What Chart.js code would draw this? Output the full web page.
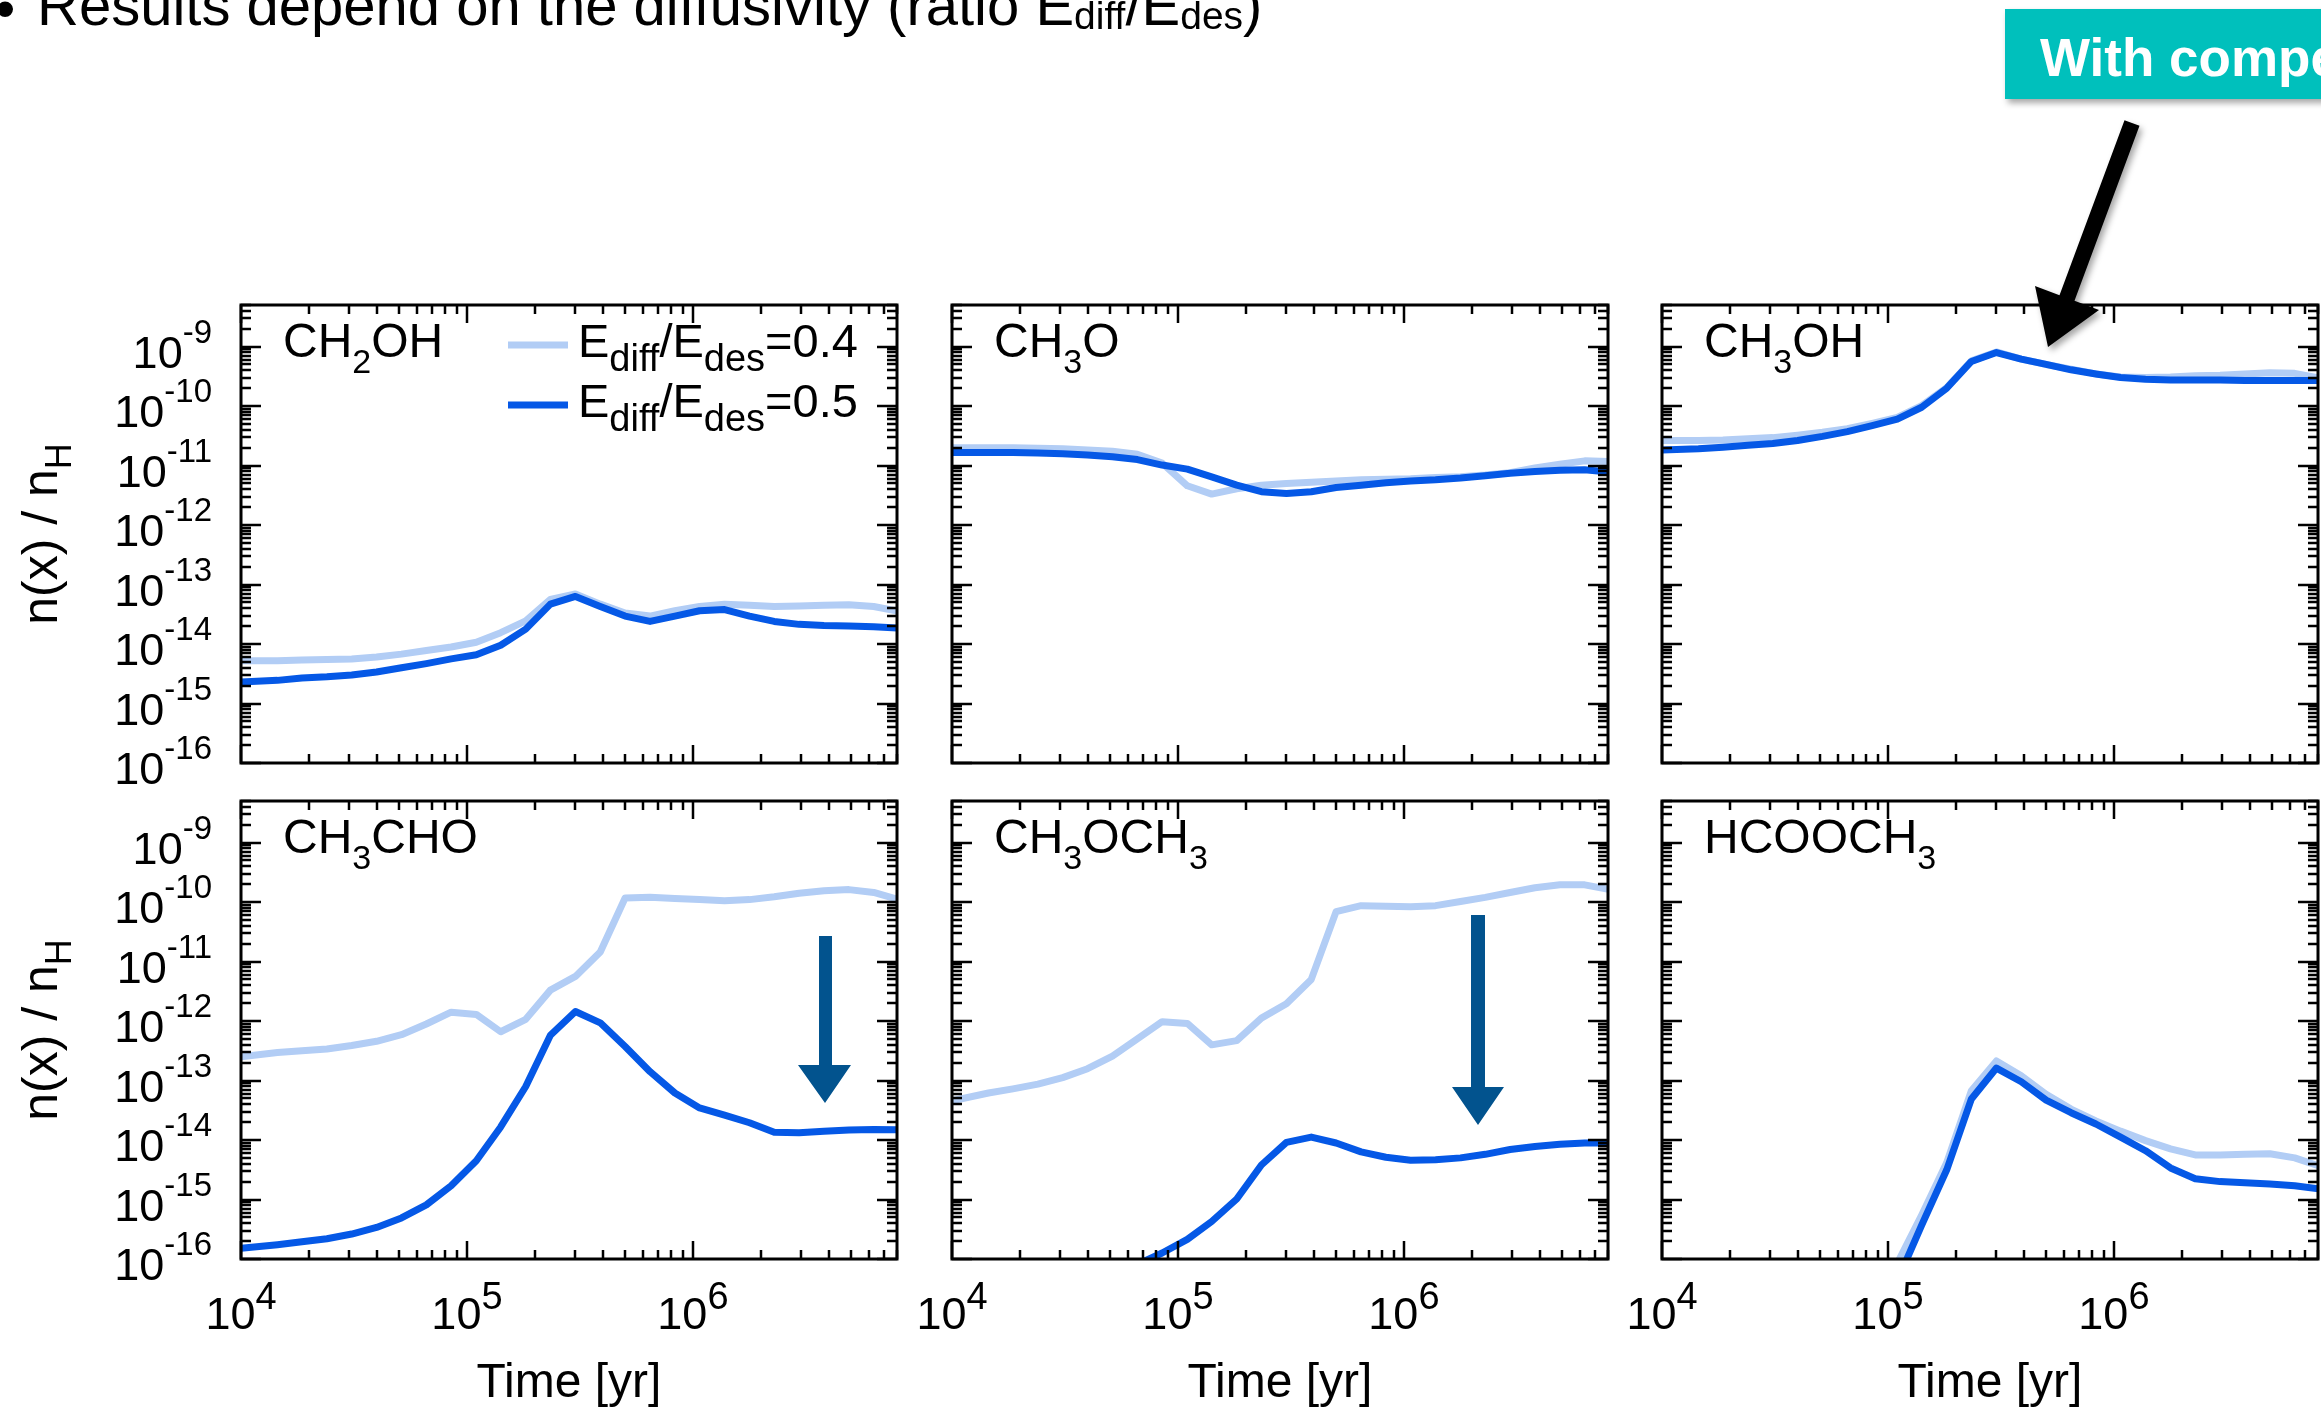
<!DOCTYPE html>
<html>
<head>
<meta charset="utf-8">
<script src="https://cdn.jsdelivr.net/npm/chart.js@4.4.1/dist/chart.umd.min.js"></script>
<style>
    html, body { margin: 0; padding: 0; width: 2321px; height: 1408px; overflow: hidden; background: #fff; }
    .panel { position: absolute; }
    #notes { position: absolute; left: 0; top: 0; }
</style>
</head>
<body>
<div id="panels"></div>
<svg id="notes" width="2321" height="1408" viewBox="0 0 2321 1408"></svg>
<script>
// model output times [yr]
const times = [1.0e4, 1.45e4, 1.86e4, 2.4e4, 3.09e4, 3.98e4, 5.13e4, 6.61e4, 8.51e4,
    1.10e5, 1.41e5, 1.82e5, 2.34e5, 3.02e5, 3.89e5, 5.01e5, 6.46e5, 8.32e5,
    1.07e6, 1.38e6, 1.78e6, 2.29e6, 2.95e6, 3.80e6, 4.90e6, 6.31e6, 8.13e6];

// abundances n(x)/nH, "Low" = Ediff/Edes=0.4, "High" = Ediff/Edes=0.5
const ch2ohLow = [5.25e-15, 5.25e-15, 5.37e-15, 5.50e-15, 5.62e-15, 6.03e-15, 6.76e-15, 7.76e-15, 8.91e-15,
    1.07e-14, 1.55e-14, 2.45e-14, 5.62e-14, 6.92e-14, 4.68e-14, 3.31e-14, 2.95e-14, 3.63e-14,
    4.27e-14, 4.68e-14, 4.47e-14, 4.27e-14, 4.37e-14, 4.47e-14, 4.57e-14, 4.27e-14, 3.55e-14];
const ch2ohHigh = [2.29e-15, 2.45e-15, 2.69e-15, 2.82e-15, 3.02e-15, 3.39e-15, 3.98e-15, 4.68e-15, 5.62e-15,
    6.61e-15, 9.55e-15, 1.78e-14, 4.68e-14, 6.31e-14, 4.27e-14, 2.95e-14, 2.40e-14, 2.95e-14,
    3.63e-14, 3.80e-14, 2.95e-14, 2.40e-14, 2.14e-14, 2.04e-14, 2.00e-14, 1.95e-14, 1.86e-14];

const ch3oLow = [2.00e-11, 2.00e-11, 2.00e-11, 1.95e-11, 1.91e-11, 1.82e-11, 1.74e-11, 1.55e-11, 1.10e-11,
    4.57e-12, 3.31e-12, 4.07e-12, 4.68e-12, 5.01e-12, 5.25e-12, 5.50e-12, 5.75e-12, 5.89e-12,
    6.03e-12, 6.31e-12, 6.46e-12, 6.92e-12, 7.59e-12, 9.12e-12, 1.05e-11, 1.20e-11, 1.17e-11];
const ch3oHigh = [1.66e-11, 1.66e-11, 1.66e-11, 1.62e-11, 1.58e-11, 1.51e-11, 1.41e-11, 1.26e-11, 1.02e-11,
    8.71e-12, 6.46e-12, 4.68e-12, 3.63e-12, 3.39e-12, 3.63e-12, 4.27e-12, 4.68e-12, 5.13e-12,
    5.50e-12, 5.75e-12, 6.17e-12, 6.76e-12, 7.41e-12, 7.94e-12, 8.32e-12, 8.51e-12, 7.76e-12];

const ch3ohLow = [2.63e-11, 2.63e-11, 2.69e-11, 2.82e-11, 2.95e-11, 3.24e-11, 3.63e-11, 4.17e-11, 5.13e-11,
    6.46e-11, 1.02e-10, 2.04e-10, 5.75e-10, 8.13e-10, 6.17e-10, 5.01e-10, 4.17e-10, 3.47e-10,
    3.09e-10, 3.02e-10, 3.09e-10, 3.24e-10, 3.31e-10, 3.47e-10, 3.63e-10, 3.55e-10, 2.95e-10];
const ch3ohHigh = [1.82e-11, 1.91e-11, 2.04e-11, 2.19e-11, 2.34e-11, 2.63e-11, 3.09e-11, 3.72e-11, 4.68e-11,
    6.03e-11, 9.55e-11, 2.00e-10, 5.62e-10, 7.94e-10, 6.17e-10, 5.01e-10, 4.07e-10, 3.47e-10,
    3.02e-10, 2.82e-10, 2.75e-10, 2.75e-10, 2.75e-10, 2.69e-10, 2.69e-10, 2.69e-10, 2.69e-10];

const ch3choLow = [2.51e-13, 2.95e-13, 3.16e-13, 3.39e-13, 3.89e-13, 4.57e-13, 5.89e-13, 8.91e-13, 1.41e-12,
    1.29e-12, 6.61e-13, 1.07e-12, 3.31e-12, 5.62e-12, 1.45e-11, 1.17e-10, 1.20e-10, 1.15e-10,
    1.10e-10, 1.05e-10, 1.10e-10, 1.23e-10, 1.41e-10, 1.55e-10, 1.62e-10, 1.45e-10, 1.10e-10];
const ch3choHigh = [1.51e-16, 1.74e-16, 1.95e-16, 2.19e-16, 2.63e-16, 3.39e-16, 4.90e-16, 8.13e-16, 1.70e-15,
    4.47e-15, 1.66e-14, 7.94e-14, 5.75e-13, 1.45e-12, 9.33e-13, 3.72e-13, 1.41e-13, 6.17e-14,
    3.47e-14, 2.63e-14, 1.95e-14, 1.35e-14, 1.32e-14, 1.41e-14, 1.48e-14, 1.51e-14, 1.48e-14];

const ch3och3Low = [4.57e-14, 6.17e-14, 7.24e-14, 8.71e-14, 1.12e-13, 1.58e-13, 2.57e-13, 5.01e-13, 9.77e-13,
    9.12e-13, 3.98e-13, 4.68e-13, 1.12e-12, 1.95e-12, 5.01e-12, 6.92e-11, 8.71e-11, 8.51e-11,
    8.32e-11, 8.71e-11, 1.02e-10, 1.20e-10, 1.45e-10, 1.74e-10, 1.95e-10, 1.95e-10, 1.62e-10];
const ch3och3High = [null, null, null, null, null, null, null, 8.13e-17, 1.26e-16,
    2.14e-16, 4.27e-16, 1.02e-15, 3.80e-15, 9.12e-15, 1.12e-14, 8.91e-15, 6.31e-15, 5.13e-15,
    4.57e-15, 4.68e-15, 5.01e-15, 5.75e-15, 6.92e-15, 7.76e-15, 8.51e-15, 8.91e-15, 8.91e-15];

const hcooch3Low = [null, null, null, null, null, null, null, null, null,
    8.51e-17, 5.50e-16, 4.17e-15, 6.76e-14, 2.14e-13, 1.20e-13, 5.89e-14, 3.31e-14, 2.09e-14,
    1.41e-14, 9.77e-15, 7.08e-15, 5.62e-15, 5.62e-15, 5.75e-15, 5.89e-15, 5.01e-15, 3.63e-15];
const hcooch3High = [null, null, null, null, null, null, null, null, null,
    4.27e-17, 3.72e-16, 3.16e-15, 4.90e-14, 1.62e-13, 9.55e-14, 4.68e-14, 2.88e-14, 1.86e-14,
    1.12e-14, 6.61e-15, 3.39e-15, 2.24e-15, 2.00e-15, 1.91e-15, 1.82e-15, 1.70e-15, 1.51e-15];

const seriesNames = ['E_{diff}/E_{des}=0.4', 'E_{diff}/E_{des}=0.5'];
const seriesColors = ['#b2cdf5', '#0558e6'];

const panels = [
    { label: 'CH_{2}OH', low: ch2ohLow, high: ch2ohHigh, col: 0, row: 0 },
    { label: 'CH_{3}O', low: ch3oLow, high: ch3oHigh, col: 1, row: 0 },
    { label: 'CH_{3}OH', low: ch3ohLow, high: ch3ohHigh, col: 2, row: 0 },
    { label: 'CH_{3}CHO', low: ch3choLow, high: ch3choHigh, col: 0, row: 1 },
    { label: 'CH_{3}OCH_{3}', low: ch3och3Low, high: ch3och3High, col: 1, row: 1 },
    { label: 'HCOOCH_{3}', low: hcooch3Low, high: hcooch3High, col: 2, row: 1 }
];

// layout of the 3x2 grid (px)
const PLOT_W = 656, PLOT_H = 458;
const colLeft = [241, 952, 1662];
const rowTop = [305, 801];
const PAD = { left: 150, right: 12, top: 12, bottom: 100 };
const FONT = '"Liberation Sans", Arial, Helvetica, sans-serif';

// 1..9 for plain log ticks, 0 for others (e.g. 1.5)
const mantissa = v => {
    const e = Math.floor(Math.log10(v) + 1e-9);
    const m = v / Math.pow(10, e);
    return Math.abs(m - Math.round(m)) < 1e-6 ? Math.round(m) : 0;
};

// box, inward ticks on all four sides and 10^n labels
const framePlugin = {
    id: 'frame',
    afterDatasetsDraw(chart, args, opts) {
        const { ctx, chartArea: a, scales: { x, y } } = chart;
        ctx.save();
        ctx.strokeStyle = '#000';
        ctx.fillStyle = '#000';
        ctx.lineWidth = 2.5;
        ctx.beginPath();
        x.ticks.forEach(t => {
            const m = mantissa(t.value);
            if (!m || t.value < x.min || t.value > x.max) return;
            const px = Math.round(x.getPixelForValue(t.value));
            const len = m === 1 ? 18 : 9;
            ctx.moveTo(px, a.bottom); ctx.lineTo(px, a.bottom - len);
            ctx.moveTo(px, a.top); ctx.lineTo(px, a.top + len);
        });
        y.ticks.forEach(t => {
            const m = mantissa(t.value);
            if (!m || t.value < y.min || t.value > y.max) return;
            const py = Math.round(y.getPixelForValue(t.value));
            const len = m === 1 ? 20 : 10;
            ctx.moveTo(a.left, py); ctx.lineTo(a.left + len, py);
            ctx.moveTo(a.right, py); ctx.lineTo(a.right - len, py);
        });
        ctx.stroke();
        ctx.lineWidth = 3;
        ctx.strokeRect(a.left, a.top, a.right - a.left, a.bottom - a.top);

        const base = '45px ' + FONT;
        if (opts.showY) {
            ctx.textAlign = 'right';
            y.ticks.forEach(t => {
                if (mantissa(t.value) !== 1 || t.value > y.max) return;
                const py = y.getPixelForValue(t.value);
                const e = String(Math.round(Math.log10(t.value)));
                const right = a.left - 29;
                ctx.font = '33px ' + FONT;
                ctx.fillText(e, right, py - 4);
                const w = ctx.measureText(e).width;
                ctx.font = base;
                ctx.fillText('10', right - w, py + 21);
            });
        }
        if (opts.showX) {
            ctx.textAlign = 'left';
            x.ticks.forEach(t => {
                if (mantissa(t.value) !== 1 || t.value > x.max) return;
                const px = x.getPixelForValue(t.value);
                const e = String(Math.round(Math.log10(t.value)));
                ctx.font = base;
                const w1 = ctx.measureText('10').width;
                ctx.font = '38px ' + FONT;
                const w2 = ctx.measureText(e).width;
                const start = px - (w1 + w2) / 2;
                ctx.fillText(e, start + w1, a.bottom + 50);
                ctx.font = base;
                ctx.fillText('10', start, a.bottom + 70);
            });
        }
        ctx.restore();
    }
};

// "E_{diff}" -> svg tspans with a lowered, smaller part
function spans(text, subSize, shift) {
    let out = '', down = false;
    text.split(/(_\{[^}]*\})/).filter(Boolean).forEach(part => {
        if (part.startsWith('_{')) {
            out += `<tspan font-size="${subSize}" dy="${down ? 0 : shift}">${part.slice(2, -1)}</tspan>`;
            down = true;
        } else {
            out += `<tspan dy="${down ? -shift : 0}">${part}</tspan>`;
            down = false;
        }
    });
    return out;
}

document.addEventListener('DOMContentLoaded', () => {
    const holder = document.getElementById('panels');

    panels.forEach(p => {
        const left = colLeft[p.col], top = rowTop[p.row];
        const box = document.createElement('div');
        box.className = 'panel';
        box.style.left = (left - PAD.left) + 'px';
        box.style.top = (top - PAD.top) + 'px';
        const canvas = document.createElement('canvas');
        canvas.width = PLOT_W + PAD.left + PAD.right;
        canvas.height = PLOT_H + PAD.top + PAD.bottom;
        box.appendChild(canvas);
        holder.appendChild(box);

        const toPoints = vals => times.map((t, i) => ({ x: t, y: vals[i] }));

        new Chart(canvas, {
            type: 'line',
            data: {
                datasets: [{
                    label: seriesNames[1],
                    data: toPoints(p.high),
                    borderColor: seriesColors[1],
                    order: 0
                }, {
                    label: seriesNames[0],
                    data: toPoints(p.low),
                    borderColor: seriesColors[0],
                    order: 1
                }]
            },
            options: {
                responsive: false,
                animation: false,
                events: [],
                layout: { padding: { top: PAD.top, right: PAD.right, left: 0, bottom: 0 } },
                elements: {
                    point: { radius: 0 },
                    line: { borderWidth: 7, tension: 0, borderJoinStyle: 'round', fill: false }
                },
                datasets: { line: { clip: 0, spanGaps: false } },
                plugins: {
                    legend: { display: false },
                    tooltip: { enabled: false },
                    frame: { showX: p.row === 1, showY: p.col === 0 }
                },
                scales: {
                    x: {
                        type: 'logarithmic', min: 1e4, max: 8e6,
                        ticks: { display: false }, grid: { display: false }, border: { display: false },
                        afterFit: s => { s.height = PAD.bottom; }
                    },
                    y: {
                        type: 'logarithmic', min: 1e-16, max: 5e-9,
                        ticks: { display: false }, grid: { display: false }, border: { display: false },
                        afterFit: s => { s.width = PAD.left; }
                    }
                }
            },
            plugins: [framePlugin]
        });
    });

    // text and annotations on top
    const notes = [];
    notes.push(`<defs><filter id="soft" x="-30%" y="-30%" width="160%" height="170%">
        <feDropShadow dx="3" dy="4" stdDeviation="3" flood-color="#000" flood-opacity="0.35"/></filter></defs>`);
    notes.push(`<g font-family='${FONT}' fill="#000">`);
    notes.push(`<text x="-5" y="28" font-size="58">•</text>`);
    notes.push(`<text x="37" y="25" font-size="58">${spans('Results depend on the diffusivity (ratio E_{diff}/E_{des})', 39, 4)}</text>`);

    panels.forEach(p => {
        const left = colLeft[p.col], top = rowTop[p.row];
        notes.push(`<text x="${left + 42}" y="${top + 52}" font-size="48">${spans(p.label, 34, 16)}</text>`);
        if (p.col === 0) {
            notes.push(`<text transform="translate(57 ${top + PLOT_H / 2}) rotate(-90)" text-anchor="middle" font-size="50">${spans('n(x) / n_{H}', 36, 14)}</text>`);
        }
        if (p.row === 1) {
            notes.push(`<text x="${left + PLOT_W / 2}" y="${top + PLOT_H + 138}" text-anchor="middle" font-size="48">Time [yr]</text>`);
        }
    });

    // legend inside the first panel
    [0, 1].forEach(i => {
        const y = 345 + i * 60;
        notes.push(`<line x1="508" x2="568" y1="${y}" y2="${y}" stroke="${seriesColors[i]}" stroke-width="7"/>`);
        notes.push(`<text x="578" y="${y + 12}" font-size="47">${spans(seriesNames[i], 38, 14)}</text>`);
    });

    // down arrows in CH3CHO and CH3OCH3
    notes.push(`<polygon fill="#02538e" points="819,936 832,936 832,1065 851,1065 825,1103 798,1065 819,1065"/>`);
    notes.push(`<polygon fill="#02538e" points="1471,915 1485,915 1485,1087 1504,1087 1478,1125 1452,1087 1471,1087"/>`);

    // callout box and black arrow
    notes.push(`<rect x="2005" y="9" width="340" height="90" fill="#00c0bc" filter="url(#soft)"/>`);
    notes.push(`<text x="2040" y="76" font-size="53" font-weight="bold" fill="#fff">With compétition</text>`);
    notes.push(`<polygon fill="#000" filter="url(#soft)" points="2139.5,125.8 2124.5,120.2 2059.5,295.2 2035,286 2048,347 2099,310 2074.5,300.8"/>`);
    notes.push('</g>');

    document.getElementById('notes').innerHTML = notes.join('\n');
});
</script>
</body>
</html>
